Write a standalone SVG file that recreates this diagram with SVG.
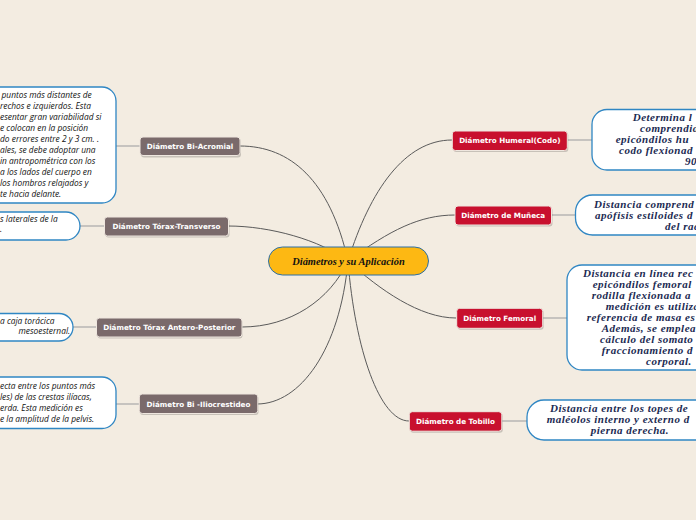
<svg xmlns="http://www.w3.org/2000/svg" width="696" height="520" viewBox="0 0 696 520">
<style>
.bg{fill:#f3ece1}
.conn{fill:none;stroke:#5a5a5a;stroke-width:1}
.sub{fill:none;stroke:#a9a9a9;stroke-width:1.2}
.lnode{fill:#7a6a6b;stroke:#efe7df;stroke-width:1}
.rnode{fill:#c8102e;stroke:#efe7df;stroke-width:1}
.shadow{fill:#000;opacity:0.18}
.ntext{font-family:"DejaVu Sans",sans-serif;font-weight:bold;font-size:7.2px;fill:#fff;text-anchor:middle}
.box{fill:#fff;stroke:#2f86c3;stroke-width:1.3}
.ltext{font-family:"Open Sans","Noto Sans",sans-serif;font-style:italic;font-size:8.4px;fill:#111}
.rtext{font-family:"Liberation Serif",serif;font-weight:bold;font-style:italic;font-size:11px;letter-spacing:0.5px;fill:#1b2a52}
</style>
<rect class="bg" x="0" y="0" width="696" height="520"/>
<g id="connectors">
<path class="conn" d="M348,261 C330,180 290,146 240,146"/>
<path class="conn" d="M348,261 C320,240 270,226 228,226"/>
<path class="conn" d="M348,261 C330,300 290,327 242,327"/>
<path class="conn" d="M348,261 C340,350 300,404 257,404"/>
<path class="conn" d="M348,261 C370,190 405,140 452,140"/>
<path class="conn" d="M348,261 C390,230 420,215 455,215"/>
<path class="conn" d="M348,261 C380,290 420,318 456,318"/>
<path class="conn" d="M348,261 C355,350 380,421 409,421"/>
<path class="sub" d="M116,146 L140,146"/>
<path class="sub" d="M80,226 L104,226"/>
<path class="sub" d="M73,327 L97,327"/>
<path class="sub" d="M116,404 L139,404"/>
<path class="sub" d="M567,140 L592,140"/>
<path class="sub" d="M551,215 L576,215"/>
<path class="sub" d="M543,318 L567,318"/>
<path class="sub" d="M502,421 L527,421"/>
</g>
<g id="center">
<rect x="268.5" y="247" width="160" height="28" rx="14" fill="#fdb813" stroke="#2a6fa8" stroke-width="1"/>
<text x="348.5" y="264.5" font-family="Liberation Serif,serif" font-weight="bold" font-style="italic" font-size="10.4px" fill="#111" text-anchor="middle">Diámetros y su Aplicación</text>
</g>
<g id="n-biacromial">
<rect class="shadow" x="141" y="138.5" width="100" height="19" rx="3"/>
<rect class="lnode" x="140" y="137" width="100" height="18.5" rx="3"/>
<text class="ntext" x="190" y="148.8">Diámetro Bi-Acromial</text>
</g>
<g id="d-biacromial">
<rect class="box" x="-150" y="87" width="266" height="116" rx="14"/>
<text class="ltext"><tspan x="1.5" y="98">puntos más distantes de</tspan><tspan x="0" y="109">rechos e izquierdos. Esta</tspan><tspan x="0" y="120">esentar gran variabilidad si</tspan><tspan x="0" y="131">e colocan en la posición</tspan><tspan x="0" y="142">do errores entre 2 y 3 cm. .</tspan><tspan x="0" y="153">ales, se debe adoptar una</tspan><tspan x="0" y="164">in antropométrica con los</tspan><tspan x="0" y="175">a los lados del cuerpo en</tspan><tspan x="0" y="186">los hombros relajados y</tspan><tspan x="0" y="197">te hacia delante.</tspan></text>
</g>
<g id="n-toraxtransverso">
<rect class="shadow" x="105.5" y="218.5" width="124" height="19" rx="3"/>
<rect class="lnode" x="104.5" y="217" width="124" height="19" rx="3"/>
<text class="ntext" x="166.5" y="229">Diámetro Tórax-Transverso</text>
</g>
<g id="d-toraxtransverso">
<rect class="box" x="-150" y="212" width="230" height="28" rx="14"/>
<text class="ltext"><tspan x="0" y="222">s laterales de la</tspan><tspan x="0" y="232">.</tspan></text>
</g>
<g id="n-antero">
<rect class="shadow" x="97.5" y="319.5" width="145" height="19" rx="3"/>
<rect class="lnode" x="96.5" y="318" width="145.5" height="19" rx="3"/>
<text class="ntext" x="169.3" y="330">Diámetro Tórax Antero-Posterior</text>
</g>
<g id="d-antero">
<rect class="box" x="-150" y="313.5" width="223" height="27.5" rx="14"/>
<text class="ltext"><tspan x="0" y="324">a caja torácica</tspan><tspan x="18.5" y="334">mesoesternal.</tspan></text>
</g>
<g id="n-ilio">
<rect class="shadow" x="140" y="395.5" width="118.5" height="19.5" rx="3"/>
<rect class="lnode" x="139.3" y="394" width="118.5" height="19.5" rx="3"/>
<text class="ntext" x="198.5" y="406.5">Diámetro Bi -Iliocrestideo</text>
</g>
<g id="d-ilio">
<rect class="box" x="-150" y="377" width="266" height="51.5" rx="14"/>
<text class="ltext"><tspan x="0" y="388.5">ecta entre los puntos más</tspan><tspan x="0" y="399.5">les) de las crestas ilíacas,</tspan><tspan x="0" y="410.5">erda. Esta medición es</tspan><tspan x="0" y="421.5">e la amplitud de la pelvis.</tspan></text>
</g>
<g id="n-humeral">
<rect class="shadow" x="453.3" y="132.5" width="115" height="19.5" rx="3"/>
<rect class="rnode" x="452.3" y="131" width="115" height="19.5" rx="3"/>
<text class="ntext" x="509.8" y="143.3">Diámetro Humeral(Codo)</text>
</g>
<g id="d-humeral">
<rect class="box" x="592" y="109.5" width="250" height="60.5" rx="15"/>
<text class="rtext"><tspan x="632.7" y="121">Determina l</tspan><tspan x="640" y="132">comprendid</tspan><tspan x="615.7" y="143">epicóndilos hu</tspan><tspan x="619" y="154">codo flexionad</tspan><tspan x="685" y="165">90</tspan></text>
</g>
<g id="n-muneca">
<rect class="shadow" x="456" y="207.5" width="96.5" height="19" rx="3"/>
<rect class="rnode" x="455" y="206" width="96.5" height="19" rx="3"/>
<text class="ntext" x="503.2" y="218.3">Diámetro de Muñeca</text>
</g>
<g id="d-muneca">
<rect class="box" x="575.5" y="195" width="250" height="40" rx="17"/>
<text class="rtext"><tspan x="594" y="207.5">Distancia comprend</tspan><tspan x="595" y="218.5">apófisis estiloides d</tspan><tspan x="665" y="229.5">del radi</tspan></text>
</g>
<g id="n-femoral">
<rect class="shadow" x="457.7" y="309.8" width="86" height="20" rx="3"/>
<rect class="rnode" x="456.7" y="308.3" width="86" height="20" rx="3"/>
<text class="ntext" x="499.7" y="321">Diámetro Femoral</text>
</g>
<g id="d-femoral">
<rect class="box" x="567" y="265" width="250" height="105" rx="15"/>
<text class="rtext"><tspan x="583" y="277">Distancia en línea rec</tspan><tspan x="592.7" y="288">epicóndilos femoral</tspan><tspan x="591.7" y="299">rodilla flexionada a</tspan><tspan x="605.7" y="310">medición es utiliza</tspan><tspan x="586.7" y="321">referencia de masa es</tspan><tspan x="601.7" y="332">Además, se emplea</tspan><tspan x="600" y="343">cálculo del somato</tspan><tspan x="601.7" y="354">fraccionamiento d</tspan><tspan x="646" y="365">corporal.</tspan></text>
</g>
<g id="n-tobillo">
<rect class="shadow" x="410.3" y="413.2" width="92.5" height="19.5" rx="3"/>
<rect class="rnode" x="409.3" y="411.7" width="92.5" height="19.5" rx="3"/>
<text class="ntext" x="455.5" y="424">Diámetro de Tobillo</text>
</g>
<g id="d-tobillo">
<rect class="box" x="527" y="400" width="250" height="40" rx="17"/>
<text class="rtext"><tspan x="550" y="412">Distancia entre los topes de</tspan><tspan x="546.7" y="423">maléolos interno y externo d</tspan><tspan x="590.7" y="434">pierna derecha.</tspan></text>
</g>
</svg>
